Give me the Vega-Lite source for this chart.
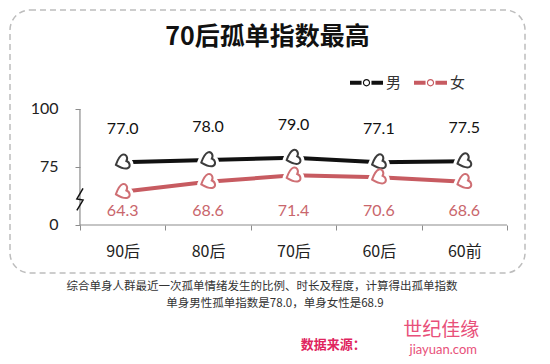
{
  "$schema": "https://vega.github.io/schema/vega-lite/v6.json",
  "width": 515,
  "height": 263,
  "autosize": {"type": "none"},
  "padding": {"left": 10, "top": 10, "right": 25, "bottom": 91},
  "background": "white",
  "config": {
    "view": {"stroke": "#bdbdbd", "strokeDash": [6, 4], "strokeWidth": 1.5, "cornerRadius": 20},
    "font": "Noto Sans CJK SC"
  },
  "title": {
    "text": "70后孤单指数最高",
    "fontSize": 25,
    "fontWeight": "bold",
    "color": "#111111",
    "anchor": "middle",
    "frame": "group",
    "offset": -40,
    "font": "Noto Sans CJK SC"
  },
  "data": {
    "values": [
      {"cohort": "90后", "sex": "男", "value": 77.0},
      {"cohort": "80后", "sex": "男", "value": 78.0},
      {"cohort": "70后", "sex": "男", "value": 79.0},
      {"cohort": "60后", "sex": "男", "value": 77.1},
      {"cohort": "60前", "sex": "男", "value": 77.5},
      {"cohort": "90后", "sex": "女", "value": 64.3},
      {"cohort": "80后", "sex": "女", "value": 68.6},
      {"cohort": "70后", "sex": "女", "value": 71.4},
      {"cohort": "60后", "sex": "女", "value": 70.6},
      {"cohort": "60前", "sex": "女", "value": 68.6}
    ]
  },
  "layer": [
    {
      "mark": {"type": "line", "strokeWidth": 4},
      "encoding": {
        "x": {
          "field": "cohort",
          "type": "nominal",
          "scale": {"domain": ["90后", "80后", "70后", "60后", "60前"], "paddingInner": 0, "paddingOuter": 0.5152, "align": 0.795},
          "axis": {
            "title": null,
            "labelAngle": 0,
            "domain": false,
            "tickBand": "extent",
            "tickSize": 5,
            "tickColor": "#8c8c8c",
            "offset": -48,
            "labelFontSize": 16,
            "labelColor": "#222222",
            "labelPadding": 13,
            "labelFont": "Noto Sans CJK SC"
          }
        },
        "y": {
          "field": "value",
          "type": "quantitative",
          "scale": {"domain": [29.31, 142.67], "nice": false, "zero": false},
          "axis": {
            "title": null,
            "values": [50, 75, 100],
            "labelExpr": "datum.value == 50 ? '0' : datum.label",
            "domain": false,
            "grid": false,
            "offset": -70,
            "tickSize": 5,
            "tickColor": "#8c8c8c",
            "labelFontSize": 16,
            "labelFont": "Lato",
            "labelColor": "#222222",
            "labelPadding": 17
          }
        },
        "color": {
          "field": "sex",
          "type": "nominal",
          "scale": {"domain": ["男", "女"], "range": ["#111111", "#c75b61"]},
          "legend": {
            "orient": "none",
            "legendX": 340,
            "legendY": 56,
            "direction": "horizontal",
            "title": null,
            "symbolType": "M-1,-0.12 H-0.3 V0.12 H-1 Z M0.3,-0.12 H1 V0.12 H0.3 Z M0.22,0 A0.22,0.22 0 1,1 -0.22,0 A0.22,0.22 0 1,1 0.22,0 Z M0.15,0 A0.15,0.15 0 1,0 -0.15,0 A0.15,0.15 0 1,0 0.15,0 Z",
            "symbolSize": 1089,
            "symbolStrokeWidth": 0,
            "labelFontSize": 15,
            "labelFont": "Noto Sans CJK SC",
            "labelColor": "#333333",
            "columnPadding": 12,
            "labelOffset": 3,
            "encode": {"symbols": {"update": {"fill": {"scale": "color", "field": "value"}, "stroke": {"value": "transparent"}}}}
          }
        }
      }
    },
    {
      "mark": {
        "type": "point",
        "shape": "M-0.94,0.34 C-0.675,-0.393 -0.436,-0.906 -0.013,-1.06 C0.41,-1.214 0.803,-0.718 0.517,-0.188 C1.077,0.034 1.094,0.666 0.671,0.82 C0.248,0.974 -0.265,0.735 -0.94,0.342 Z",
        "size": 210,
        "filled": true,
        "fill": "white",
        "stroke": "white",
        "strokeWidth": 8,
        "opacity": 1
      },
      "encoding": {
        "x": {"field": "cohort", "type": "nominal"},
        "y": {"field": "value", "type": "quantitative"}
      }
    },
    {
      "mark": {
        "type": "point",
        "shape": "M-0.94,0.34 C-0.675,-0.393 -0.436,-0.906 -0.013,-1.06 C0.41,-1.214 0.803,-0.718 0.517,-0.188 C1.077,0.034 1.094,0.666 0.671,0.82 C0.248,0.974 -0.265,0.735 -0.94,0.342 Z",
        "size": 210,
        "filled": false,
        "fill": "white",
        "fillOpacity": 1,
        "strokeWidth": 2,
        "opacity": 1
      },
      "encoding": {
        "x": {"field": "cohort", "type": "nominal"},
        "y": {"field": "value", "type": "quantitative"},
        "stroke": {
          "field": "sex",
          "type": "nominal",
          "scale": {"domain": ["男", "女"], "range": ["#3c3c3c", "#cf6f74"]},
          "legend": null
        }
      }
    },
    {
      "transform": [{"filter": "datum.sex == '男'"}],
      "mark": {"type": "text", "fontSize": 16, "font": "Lato", "color": "#111111", "dy": -33},
      "encoding": {
        "x": {"field": "cohort", "type": "nominal"},
        "y": {"field": "value", "type": "quantitative"},
        "text": {"field": "value", "type": "quantitative", "format": ".1f"}
      }
    },
    {
      "transform": [{"filter": "datum.sex == '女'"}],
      "mark": {"type": "text", "fontSize": 16, "font": "Lato", "color": "#c9666c"},
      "encoding": {
        "x": {"field": "cohort", "type": "nominal"},
        "y": {"datum": 56},
        "text": {"field": "value", "type": "quantitative", "format": ".1f"}
      }
    },
    {
      "data": {"values": [{}]},
      "mark": {"type": "rule", "color": "#8c8c8c", "strokeWidth": 1.2},
      "encoding": {
        "x": {"datum": "90后", "type": "nominal", "bandPosition": 0},
        "y": {"datum": 50},
        "y2": {"datum": 100}
      }
    },
    {
      "data": {"values": [{}]},
      "mark": {"type": "rule", "color": "#8c8c8c", "strokeWidth": 1.2},
      "encoding": {
        "x": {"datum": "90后", "type": "nominal", "bandPosition": 0},
        "x2": {"datum": "60前", "bandPosition": 1},
        "y": {"datum": 50}
      }
    },
    {
      "data": {"values": [{}]},
      "mark": {
        "type": "point",
        "shape": "M0.28,-1 L-0.28,-0.05 L0.28,0.05 L-0.28,1",
        "size": 484,
        "filled": false,
        "stroke": "#111111",
        "strokeWidth": 1.5,
        "opacity": 1
      },
      "encoding": {
        "x": {"datum": "90后", "type": "nominal", "bandPosition": 0},
        "y": {"datum": 61}
      }
    },
    {
      "data": {"values": [{}]},
      "mark": {"type": "text", "text": "综合单身人群最近一次孤单情绪发生的比例、时长及程度，计算得出孤单指数", "fontSize": 11.5, "font": "Noto Sans CJK SC", "color": "#333333", "dx": -31.5},
      "encoding": {
        "x": {"datum": "70后", "type": "nominal"},
        "y": {"datum": 23.27}
      }
    },
    {
      "data": {"values": [{}]},
      "mark": {"type": "text", "text": "单身男性孤单指数是78.0，单身女性是68.9", "fontSize": 11.5, "font": "Noto Sans CJK SC", "color": "#333333", "dx": -18.5},
      "encoding": {
        "x": {"datum": "70后", "type": "nominal"},
        "y": {"datum": 15.95}
      }
    },
    {
      "data": {"values": [{}]},
      "mark": {"type": "text", "text": "数据来源：", "fontSize": 13, "fontWeight": "bold", "font": "Noto Sans CJK SC", "color": "#e0245e", "dx": -45.6},
      "encoding": {
        "x": {"datum": "60后", "type": "nominal"},
        "y": {"datum": -1.73}
      }
    },
    {
      "data": {"values": [{}]},
      "mark": {"type": "text", "text": "世纪佳缘", "fontSize": 19, "font": "Noto Sans CJK SC", "color": "#e8507a", "dx": -23},
      "encoding": {
        "x": {"datum": "60前", "type": "nominal"},
        "y": {"datum": 4.74}
      }
    },
    {
      "data": {"values": [{}]},
      "mark": {"type": "text", "text": "jiayuan.com", "fontSize": 13, "font": "Lato", "color": "#e8507a", "dx": -21},
      "encoding": {
        "x": {"datum": "60前", "type": "nominal"},
        "y": {"datum": -3.88}
      }
    }
  ]
}
